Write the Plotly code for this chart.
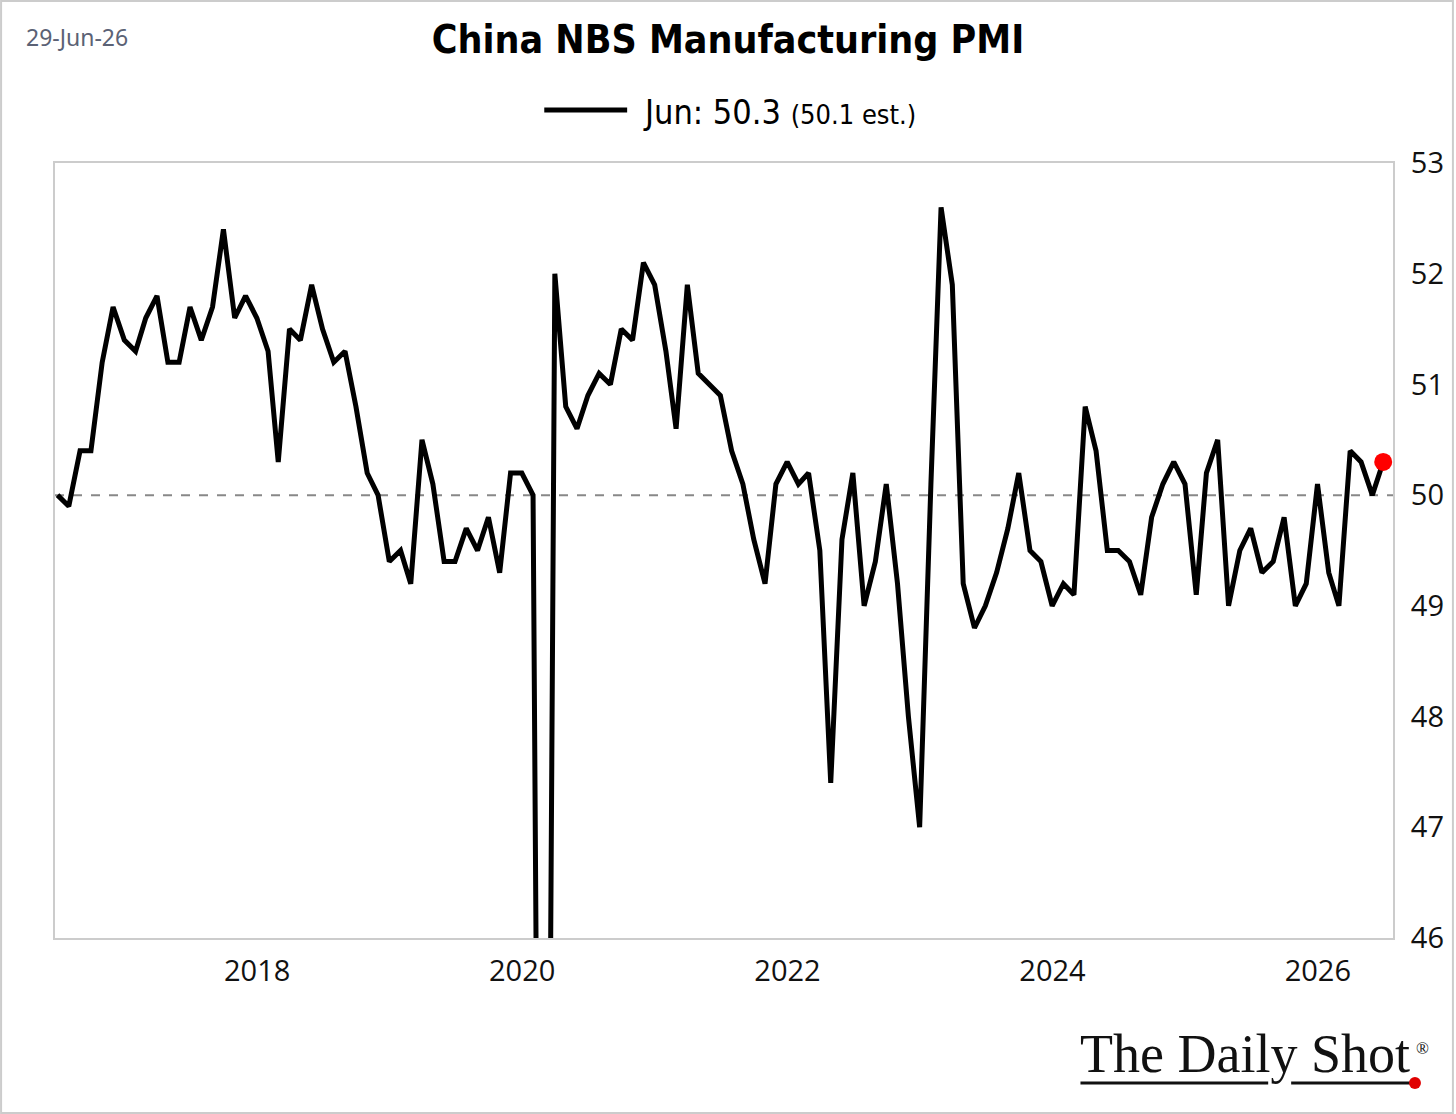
import pandas as pd
import plotly.graph_objects as go

# China NBS Manufacturing PMI, monthly (Jun 2016 - Jun 2026)
pmi_2016 = [50.0, 49.9, 50.4, 50.4, 51.2, 51.7, 51.4]  # Jun-Dec
pmi_2017 = [51.3, 51.6, 51.8, 51.2, 51.2, 51.7, 51.4, 51.7, 52.4, 51.6, 51.8, 51.6]
pmi_2018 = [51.3, 50.3, 51.5, 51.4, 51.9, 51.5, 51.2, 51.3, 50.8, 50.2, 50.0, 49.4]
pmi_2019 = [49.5, 49.2, 50.5, 50.1, 49.4, 49.4, 49.7, 49.5, 49.8, 49.3, 50.2, 50.2]
pmi_2020 = [50.0, 35.7, 52.0, 50.8, 50.6, 50.9, 51.1, 51.0, 51.5, 51.4, 52.1, 51.9]
pmi_2021 = [51.3, 50.6, 51.9, 51.1, 51.0, 50.9, 50.4, 50.1, 49.6, 49.2, 50.1, 50.3]
pmi_2022 = [50.1, 50.2, 49.5, 47.4, 49.6, 50.2, 49.0, 49.4, 50.1, 49.2, 48.0, 47.0]
pmi_2023 = [50.1, 52.6, 51.9, 49.2, 48.8, 49.0, 49.3, 49.7, 50.2, 49.5, 49.4, 49.0]
pmi_2024 = [49.2, 49.1, 50.8, 50.4, 49.5, 49.5, 49.4, 49.1, 49.8, 50.1, 50.3, 50.1]
pmi_2025 = [49.1, 50.2, 50.5, 49.0, 49.5, 49.7, 49.3, 49.4, 49.8, 49.0, 49.2, 50.1]
pmi_2026 = [49.3, 49.0, 50.4, 50.3, 50.0, 50.3]  # Jan-Jun

values = (pmi_2016 + pmi_2017 + pmi_2018 + pmi_2019 + pmi_2020 + pmi_2021
          + pmi_2022 + pmi_2023 + pmi_2024 + pmi_2025 + pmi_2026)
dates = pd.date_range(start="2016-06-30", periods=len(values), freq="ME")

x_tick_vals = ["2018-01-01", "2020-01-01", "2022-01-01", "2024-01-01", "2026-01-01"]
x_tick_text = ["2018", "2020", "2022", "2024", "2026"]
y_tick_vals = [46, 47, 48, 49, 50, 51, 52, 53]

title_text = "China NBS Manufacturing PMI"
date_text = "29-Jun-26"
legend_main = "Jun: 50.3"
legend_sub = "(50.1 est.)"
ref_level = 50

# layout geometry (pixels)
W, H = 1456, 1114
L, R, T, B = 55, 1395, 163, 938
PW, PH = R - L, B - T


def px(x):
    return (x - L) / PW


def py(y):
    return (B - y) / PH


fig = go.Figure()

fig.add_trace(go.Scatter(
    x=dates, y=values, mode="lines",
    line=dict(color="#000000", width=5),
    showlegend=False, hoverinfo="x+y",
))
fig.add_trace(go.Scatter(
    x=[dates[-1]], y=[values[-1]], mode="markers",
    marker=dict(color="#ff0000", size=18),
    showlegend=False, cliponaxis=False,
))

# reference line at 50
fig.add_shape(type="line", xref="paper", yref="y", x0=0, x1=1,
              y0=ref_level, y1=ref_level,
              line=dict(color="#888888", width=2, dash="dash"), layer="below")

# legend line sample
fig.add_shape(type="line", xref="paper", yref="paper",
              x0=px(545), x1=px(628), y0=py(110), y1=py(110),
              line=dict(color="#000000", width=5))

# outer frame
fig.add_shape(type="rect", xref="paper", yref="paper",
              x0=px(1), x1=px(W - 1), y0=py(H - 1), y1=py(1),
              line=dict(color="#cccccc", width=2))

# logo underline + dot
fig.add_shape(type="line", xref="paper", yref="paper",
              x0=px(1082), x1=px(1270), y0=py(1083), y1=py(1083),
              line=dict(color="#111111", width=3))
fig.add_shape(type="line", xref="paper", yref="paper",
              x0=px(1293), x1=px(1413), y0=py(1083), y1=py(1083),
              line=dict(color="#111111", width=3))
fig.add_shape(type="circle", xref="paper", yref="paper",
              x0=px(1411), x1=px(1423), y0=py(1089), y1=py(1077),
              fillcolor="#e00000", line=dict(width=0))

annotations = [
    dict(text=date_text, xref="paper", yref="paper", x=px(24), y=py(37),
         xanchor="left", yanchor="middle", showarrow=False,
         font=dict(family="Noto Sans", size=23, color="#5b6275")),
    dict(text=f"{legend_main} <span style='font-size:27px'>{legend_sub}</span>",
         xref="paper", yref="paper", x=px(642), y=py(112),
         xanchor="left", yanchor="middle", showarrow=False,
         font=dict(family="DejaVu Sans Condensed, Open Sans", size=34, color="#000000")),
    dict(text="The Daily Shot", xref="paper", yref="paper", x=px(1414), y=py(1054),
         xanchor="right", yanchor="middle", showarrow=False,
         font=dict(family="Liberation Serif", size=54, color="#111111")),
    dict(text="®", xref="paper", yref="paper", x=px(1416), y=py(1048),
         xanchor="left", yanchor="middle", showarrow=False,
         font=dict(family="Liberation Serif", size=17, color="#111111")),
]

fig.update_layout(
    width=W, height=H,
    margin=dict(l=L, r=W - R, t=T, b=H - B),
    paper_bgcolor="#ffffff", plot_bgcolor="#ffffff",
    title=dict(text=f"<b>{title_text}</b>", x=0.5, xanchor="center",
               y=1 - 39 / H, yanchor="middle", yref="container",
               font=dict(family="DejaVu Sans Condensed, Open Sans", size=39, color="#000000")),
    annotations=annotations,
    showlegend=False,
)

fig.update_xaxes(
    range=["2016-06-23", "2026-07-27"],
    tickvals=x_tick_vals, ticktext=x_tick_text,
    showgrid=False, zeroline=False,
    showline=True, linecolor="#cccccc", linewidth=2, mirror=True,
    ticks="", ticklabelstandoff=6,
    tickfont=dict(family="Open Sans", size=29, color="#111111"),
)
fig.update_yaxes(
    range=[46, 53], side="right",
    tickvals=y_tick_vals,
    showgrid=False, zeroline=False,
    showline=True, linecolor="#cccccc", linewidth=2, mirror=True,
    ticks="", ticklabelstandoff=10,
    tickfont=dict(family="Open Sans", size=29, color="#111111"),
)

fig.write_html("out.html")
